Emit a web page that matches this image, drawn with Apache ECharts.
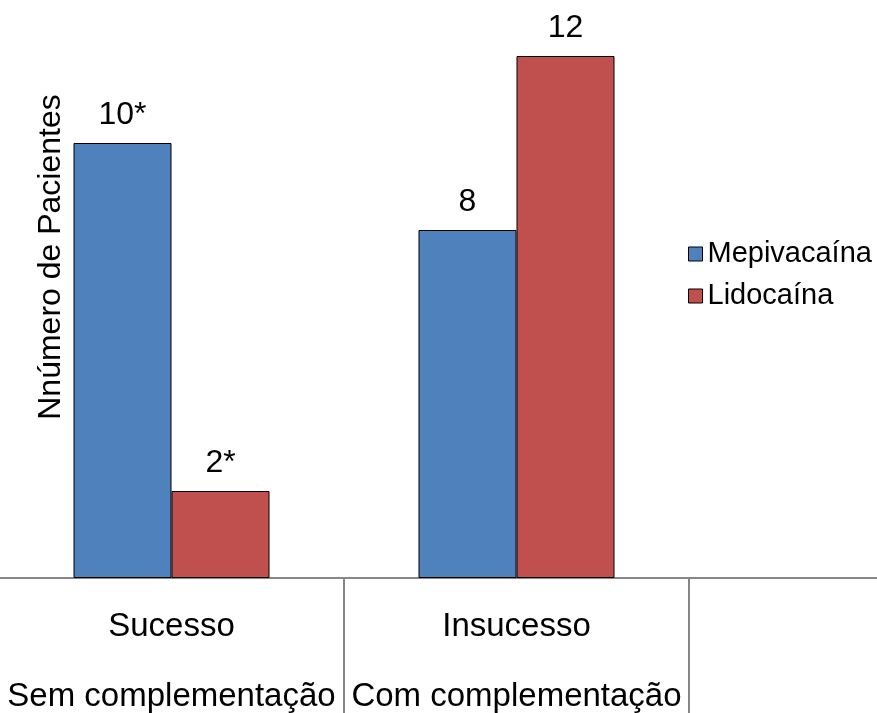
<!DOCTYPE html>
<html>
<head>
<meta charset="utf-8">
<script src="https://cdn.jsdelivr.net/npm/echarts@6/dist/echarts.min.js"></script>
<style>
  html, body { margin: 0; padding: 0; background: #fff; }
  #ec { width: 877px; height: 713px; }
</style>
</head>
<body>
<div id="ec"></div>
<script>
// categories (third slot is empty, cut off by the legend area)
var categories = ['Sucesso\nSem complementação', 'Insucesso\nCom complementação', ''];
var seriesNames = ['Mepivacaína', 'Lidocaína'];
var mepivacaina = [10, 8, null];
var lidocaina = [2, 12, null];
var mepLabels = ['10*', '8', ''];
var lidLabels = ['2*', '12', ''];

var font = 'Liberation Sans, Arial, sans-serif';

var myEchart = echarts.init(document.getElementById('ec'));
myEchart.setOption({
  animation: false,
  textStyle: { fontFamily: font, color: '#000' },
  // first boundary tick sits just off the left edge
  grid: {
    left: -1, top: 56, width: 1035, bottom: 135,
    containLabel: false,
    outerBoundsMode: 'none'
  },
  legend: {
    orient: 'vertical',
    left: 683,
    top: 234,
    itemWidth: 14,
    itemHeight: 14,
    itemGap: 12,
    icon: 'rect',
    itemStyle: { borderColor: '#000', borderWidth: 1 },
    textStyle: { fontFamily: font, fontSize: 29, lineHeight: 30, color: '#000' },
    data: seriesNames
  },
  xAxis: {
    type: 'category',
    data: categories,
    axisLine: { lineStyle: { color: '#868686', width: 2 } },
    axisTick: {
      show: true,
      interval: 0,
      length: 135,
      lineStyle: { color: '#868686', width: 2 }
    },
    axisLabel: {
      interval: 0,
      margin: 14,
      fontFamily: font,
      fontSize: 33,
      lineHeight: 70,
      color: '#000'
    }
  },
  yAxis: {
    type: 'value',
    min: 0,
    max: 12,
    show: false,
    splitLine: { show: false }
  },
  graphic: [{
    type: 'text',
    x: 51,
    y: 257,
    rotation: Math.PI / 2,
    style: {
      text: 'Nnúmero de Pacientes',
      font: '32px ' + font,
      fill: '#000',
      align: 'center',
      verticalAlign: 'middle'
    }
  }],
  series: [
    {
      name: seriesNames[0],
      type: 'bar',
      barWidth: 98,
      barGap: '0%',
      data: mepivacaina,
      itemStyle: { color: '#4F81BD', borderColor: '#000', borderWidth: 1 },
      label: {
        show: true,
        position: 'top',
        distance: 12,
        fontFamily: font,
        fontSize: 32,
        color: '#000',
        formatter: function (p) { return mepLabels[p.dataIndex]; }
      }
    },
    {
      name: seriesNames[1],
      type: 'bar',
      barWidth: 98,
      barGap: '0%',
      data: lidocaina,
      itemStyle: { color: '#C0504D', borderColor: '#000', borderWidth: 1 },
      label: {
        show: true,
        position: 'top',
        distance: 12,
        fontFamily: font,
        fontSize: 32,
        color: '#000',
        formatter: function (p) { return lidLabels[p.dataIndex]; }
      }
    }
  ]
});
</script>
</body>
</html>
